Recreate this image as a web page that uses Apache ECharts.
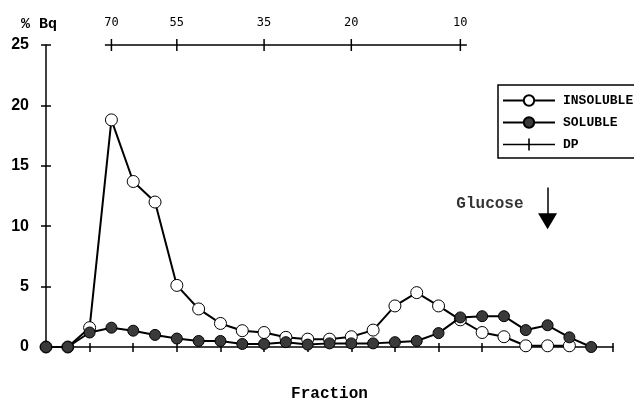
<!DOCTYPE html>
<html>
<head>
<meta charset="utf-8">
<script src="https://cdn.jsdelivr.net/npm/echarts@6/dist/echarts.min.js"></script>
<style>
  html, body { margin: 0; padding: 0; background: #fff; }
  #chart { width: 634px; height: 400px; }
</style>
</head>
<body>
<div id="chart"></div>
<script>
// % Bq per fraction (fraction number = index)
const insoluble = [0, 0, 1.6, 18.8, 13.7, 12.0, 5.1, 3.15, 1.95, 1.35, 1.2, 0.8, 0.65, 0.65, 0.85, 1.4, 3.4, 4.5, 3.4, 2.25, 1.2, 0.85, 0.1, 0.1, 0.1];
const soluble = [0, 0, 1.2, 1.6, 1.35, 1.0, 0.7, 0.5, 0.5, 0.25, 0.25, 0.4, 0.2, 0.3, 0.3, 0.3, 0.4, 0.5, 1.15, 2.45, 2.55, 2.55, 1.4, 1.8, 0.8, 0];
// DP scale drawn on top of the plot
const dpFractions = [3, 6, 10, 14, 19];
const dpValues = [70, 55, 35, 20, 10];
const dpLevel = 25;
// glucose marker
const glucoseFraction = 23;
const glucoseArrow = [13.2, 10.4]; // from, to (% Bq)
const glucoseLabelAt = 11.8;

const mono = "'Liberation Mono', 'DejaVu Sans Mono', monospace";

const chart = echarts.init(document.getElementById('chart'));

// DP line runs a little past the first and last tick
const dpData = [{ value: [dpFractions[0] - 0.3, dpLevel], symbol: 'none' }]
  .concat(dpFractions.map((f, i) => ({
    value: [f, dpLevel],
    label: { show: true, formatter: String(dpValues[i]) }
  })))
  .concat([{
    value: [dpFractions[dpFractions.length - 1] + 0.3, dpLevel],
    symbol: 'none',
    label: { show: true, formatter: 'DP', position: 'right', distance: 20, fontFamily: mono, fontWeight: 'bold', fontSize: 14, color: '#000' }
  }]);

const option = {
  animation: false,
  title: {
    text: '% Bq',
    left: 16,
    top: 12,
    textStyle: { fontFamily: mono, fontWeight: 'bold', fontSize: 15, color: '#000' }
  },
  grid: { left: 46, right: 21, top: 45, bottom: 53, containLabel: false, outerBoundsMode: 'none' },
  legend: {
    data: [
      'INSOLUBLE',
      'SOLUBLE',
      { name: 'DP', icon: 'path://M0,5.2H52V6.8H0Z M25.2,0H26.8V12H25.2Z' }
    ],
    orient: 'vertical',
    left: 498,
    top: 85,
    padding: [9, 60, 7, 4],
    itemWidth: 52,
    itemHeight: 13,
    itemGap: 9,
    borderColor: '#000',
    borderWidth: 1.5,
    selectedMode: false,
    textStyle: { fontFamily: mono, fontWeight: 'bold', fontSize: 13, color: '#000', padding: [0, 0, 0, 3] }
  },
  xAxis: [
    {
      type: 'value',
      min: 0,
      max: 26,
      interval: 2,
      position: 'bottom',
      name: 'Fraction',
      nameLocation: 'middle',
      nameGap: 39,
      nameTextStyle: { fontFamily: mono, fontWeight: 'bold', fontSize: 16, color: '#000' },
      axisLine: { lineStyle: { color: '#000', width: 1.5 } },
      axisTick: { show: true, length: 5, lineStyle: { color: '#000', width: 1.5 } },
      axisLabel: { show: false },
      splitLine: { show: false }
    },
    {
      // inner half of the crossing ticks
      type: 'value',
      min: 0,
      max: 26,
      interval: 2,
      position: 'bottom',
      offset: 0,
      axisLine: { show: false },
      axisTick: { show: true, inside: true, length: 4, lineStyle: { color: '#000', width: 1.5 } },
      axisLabel: { show: false },
      splitLine: { show: false }
    }
  ],
  yAxis: [
    {
      type: 'value',
      min: 0,
      max: 25,
      interval: 5,
      position: 'left',
      axisLine: { show: true, lineStyle: { color: '#000', width: 1.5 } },
      axisTick: { show: true, length: 5, lineStyle: { color: '#000', width: 1.5 } },
      axisLabel: {
        margin: 17,
        padding: [0, 0, 10, 0],
        fontFamily: "'Liberation Sans', Arial, sans-serif",
        fontWeight: 'bold',
        fontSize: 16,
        color: '#000'
      },
      splitLine: { show: false }
    },
    {
      type: 'value',
      min: 0,
      max: 25,
      interval: 5,
      position: 'left',
      offset: 0,
      axisLine: { show: false },
      axisTick: { show: true, inside: true, length: 5, lineStyle: { color: '#000', width: 1.5 } },
      axisLabel: { show: false },
      splitLine: { show: false }
    }
  ],
  series: [
    {
      name: 'INSOLUBLE',
      type: 'line',
      data: insoluble.map((v, i) => [i, v]),
      symbol: 'circle',
      symbolSize: 12,
      z: 3,
      lineStyle: { color: '#000', width: 2 },
      itemStyle: { color: '#fff', borderColor: '#000', borderWidth: 1 },
      emphasis: { disabled: true },
      markLine: {
        silent: true,
        symbol: ['none', 'triangle'],
        symbolSize: [19, 16],
        lineStyle: { color: '#000', width: 1.5, type: 'solid' },
        label: { show: false },
        data: [[
          { coord: [glucoseFraction, glucoseArrow[0]] },
          { coord: [glucoseFraction, glucoseArrow[1]] }
        ]]
      }
    },
    {
      name: 'SOLUBLE',
      type: 'line',
      data: soluble.map((v, i) => [i, v]),
      symbol: 'circle',
      symbolSize: 11,
      z: 4,
      lineStyle: { color: '#000', width: 2 },
      itemStyle: { color: '#3a3a3a', borderColor: '#000', borderWidth: 1 },
      emphasis: { disabled: true }
    },
    {
      name: 'DP',
      type: 'line',
      data: dpData,
      clip: false,
      symbol: 'rect',
      symbolSize: [1.5, 12],
      lineStyle: { color: '#000', width: 1.5 },
      itemStyle: { color: '#000' },
      label: {
        position: 'top',
        distance: 10,
        fontFamily: "'DejaVu Sans Mono', monospace",
        fontSize: 12,
        color: '#000'
      },
      emphasis: { disabled: true }
    },
    {
      name: 'Glucose',
      type: 'scatter',
      data: [[glucoseFraction, glucoseLabelAt]],
      symbolSize: 0,
      itemStyle: { color: '#000' },
      silent: true,
      label: {
        show: true,
        formatter: 'Glucose',
        position: 'left',
        distance: 24,
        fontFamily: mono,
        fontWeight: 'bold',
        fontSize: 16,
        color: '#000'
      }
    }
  ]
};

chart.setOption(option);
</script>
</body>
</html>
